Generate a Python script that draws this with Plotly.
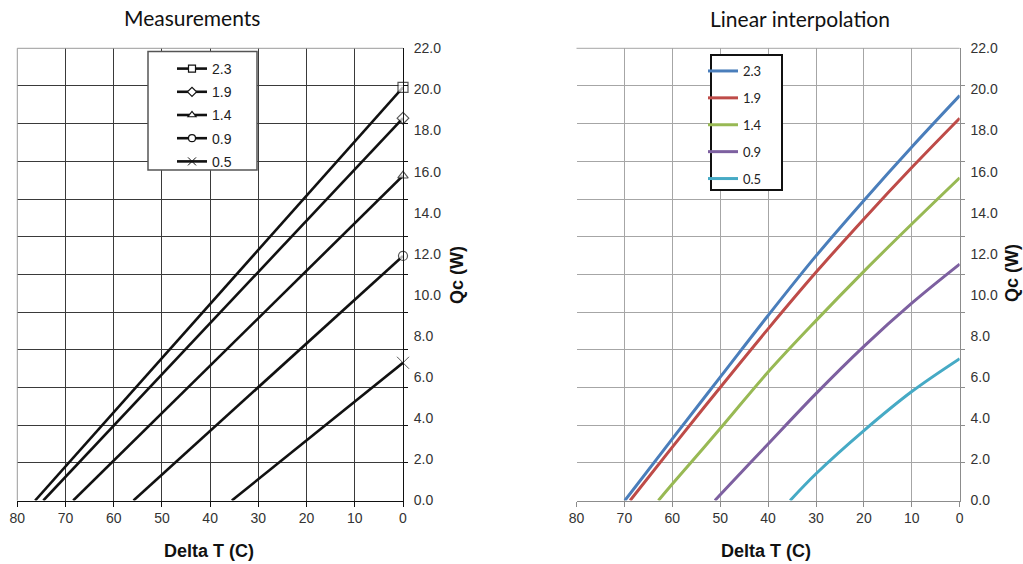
import plotly.graph_objects as go

W, H = 1023, 564

# ---------------- data ----------------
series_names = ["2.3", "1.9", "1.4", "0.9", "0.5"]

# Measurements (left): Delta T (C) vs Qc (W)
meas_x_23 = [76.3, 0.0]
meas_y_23 = [0.0, 20.1]
meas_x_19 = [74.6, 0.0]
meas_y_19 = [0.0, 18.6]
meas_x_14 = [68.4, 0.0]
meas_y_14 = [0.0, 15.8]
meas_x_09 = [55.9, 0.0]
meas_y_09 = [0.0, 11.9]
meas_x_05 = [35.5, 0.0]
meas_y_05 = [0.0, 6.7]
meas_symbols = ["square", "diamond", "triangle-up", "circle", "x-thin-open"]
meas_marker_sizes = [10, 9, 9, 9, 12]

# Linear interpolation (right)
interp_x_23 = [69.9, 60, 50, 40, 30, 20, 10, 0]
interp_y_23 = [0.0, 3.0, 6.0, 9.0, 11.9, 14.6, 17.2, 19.7]
interp_x_19 = [68.8, 60, 50, 40, 30, 20, 10, 0]
interp_y_19 = [0.0, 2.6, 5.5, 8.35, 11.1, 13.7, 16.2, 18.6]
interp_x_14 = [62.9, 60, 50, 40, 30, 20, 10, 0]
interp_y_14 = [0.0, 0.8, 3.5, 6.25, 8.75, 11.15, 13.45, 15.7]
interp_x_09 = [51.1, 50, 40, 30, 20, 10, 0]
interp_y_09 = [0.0, 0.28, 2.75, 5.2, 7.5, 9.6, 11.5]
interp_x_05 = [35.4, 30, 20, 10, 0]
interp_y_05 = [0.0, 1.3, 3.4, 5.3, 6.9]
interp_colors = ["#4A7EBB", "#BE4B48", "#98B954", "#7D60A0", "#46AAC5"]

x_ticks = [0, 10, 20, 30, 40, 50, 60, 70, 80]
y_ticks = [0, 2, 4, 6, 8, 10, 12, 14, 16, 18, 20, 22]
y_grid = [22 * k / 12 for k in range(1, 12)]

meas_x = [meas_x_23, meas_x_19, meas_x_14, meas_x_09, meas_x_05]
meas_y = [meas_y_23, meas_y_19, meas_y_14, meas_y_09, meas_y_05]
interp_x = [interp_x_23, interp_x_19, interp_x_14, interp_x_09, interp_x_05]
interp_y = [interp_y_23, interp_y_19, interp_y_14, interp_y_09, interp_y_05]


def px(p):
    return p / W


def py(p):
    return 1 - p / H


fig = go.Figure()

for name, xs, ys, sym, ms in zip(series_names, meas_x, meas_y, meas_symbols, meas_marker_sizes):
    sizes = [0] * (len(xs) - 1) + [ms]
    is_x = sym.startswith("x")
    fill = "#111111" if is_x else "white"
    marker_line = dict(color="#111111", width=1.0 if is_x else 1.2)
    # the measured line with its end marker
    fig.add_trace(go.Scatter(
        x=xs, y=ys, name=name, mode="lines+markers", showlegend=False,
        line=dict(color="#111111", width=2.6), cliponaxis=False,
        marker=dict(symbol=sym, size=sizes, color=fill, line=marker_line),
        xaxis="x", yaxis="y",
    ))
    # legend entry (no data of its own)
    fig.add_trace(go.Scatter(
        x=[None], y=[None], name=name, mode="lines+markers",
        line=dict(color="#111111", width=2.6),
        marker=dict(symbol=sym, size=8 if is_x else 7, color=fill, line=marker_line),
        xaxis="x", yaxis="y", legend="legend", legendgroup="m" + name,
    ))

for name, xs, ys, col in zip(series_names, interp_x, interp_y, interp_colors):
    fig.add_trace(go.Scatter(
        x=xs, y=ys, name=name, mode="lines",
        line=dict(color=col, width=3, shape="spline", smoothing=1.0),
        xaxis="x2", yaxis="y2", legend="legend2", legendgroup="i" + name,
    ))

tick_font = dict(family="Liberation Sans, Arial, sans-serif", size=14, color="#333333")

x_dom_l = [px(17.3), px(403)]
x_dom_r = [px(576.5), px(959.7)]
y_dom = [py(500.5), py(48.3)]


def xaxis_cfg(domain, anchor, gridcol, linecol):
    return dict(
        domain=domain, anchor=anchor, range=[80, 0], autorange=False,
        tickmode="array", tickvals=x_ticks, ticktext=[str(v) for v in x_ticks],
        showgrid=True, gridcolor=gridcol, gridwidth=1, zeroline=False,
        showline=True, linecolor=linecol, linewidth=1,
        ticks="outside", ticklen=5, tickcolor=linecol, tickwidth=1,
        tickfont=tick_font, automargin=False,
    )


def yaxis_cfg(domain, anchor, gridcol, linecol):
    return dict(
        domain=domain, anchor=anchor, side="right", range=[0, 22], autorange=False,
        tickmode="array", tickvals=y_ticks, ticktext=["%.1f" % v for v in y_ticks],
        showgrid=False, zeroline=False, ticks="",
        showline=True, linecolor=linecol, linewidth=1,
        tickfont=tick_font, ticklabelstandoff=7, automargin=False,
        minor=dict(tickmode="array", tickvals=y_grid, showgrid=True,
                   gridcolor=gridcol, gridwidth=1, ticks="outside",
                   ticklen=4, tickcolor=linecol),
    )


fig.update_layout(
    width=W, height=H, margin=dict(l=0, r=0, t=0, b=0, pad=0, autoexpand=False),
    paper_bgcolor="white", plot_bgcolor="white",
    xaxis=xaxis_cfg(x_dom_l, "y", "#3a3a3a", "#111111"),
    yaxis=yaxis_cfg(y_dom, "x", "#3a3a3a", "#111111"),
    xaxis2=xaxis_cfg(x_dom_r, "y2", "#a6a6a6", "#8c8c8c"),
    yaxis2=yaxis_cfg(y_dom, "x2", "#a6a6a6", "#8c8c8c"),
    legend=dict(x=px(172), y=py(53), xanchor="left", yanchor="top",
                bgcolor="rgba(0,0,0,0)", borderwidth=0, tracegroupgap=2,
                font=dict(family="Liberation Sans, Arial, sans-serif", size=14, color="#222222")),
    legend2=dict(x=px(703), y=py(56), xanchor="left", yanchor="top",
                 bgcolor="rgba(0,0,0,0)", borderwidth=0, tracegroupgap=7,
                 font=dict(family="Lato, sans-serif", size=13, color="#222222")),
)

shapes = [
    # left plot top/left borders
    dict(type="line", xref="x domain", yref="y domain", x0=0, x1=1, y0=1, y1=1,
         line=dict(color="#9a9a9a", width=1), layer="above"),
    dict(type="line", xref="x domain", yref="y domain", x0=0, x1=0, y0=0, y1=1,
         line=dict(color="#9a9a9a", width=1), layer="above"),
    # right plot top border
    dict(type="line", xref="x2 domain", yref="y2 domain", x0=0, x1=1, y0=1, y1=1,
         line=dict(color="#a6a6a6", width=1), layer="above"),
    # legend boxes
    dict(type="rect", xref="paper", yref="paper", x0=px(148), x1=px(257),
         y0=py(170), y1=py(51.5), line=dict(color="#555555", width=1.5),
         fillcolor="white", layer="above"),
    dict(type="rect", xref="paper", yref="paper", x0=px(711), x1=px(782),
         y0=py(190), y1=py(55), line=dict(color="#111111", width=2),
         fillcolor="white", layer="above"),
]
fig.update_layout(shapes=shapes)

title_font = dict(family="Lato, sans-serif", size=21, color="#111111")
axis_title_font = dict(family="Liberation Sans, Arial, sans-serif", size=18, color="#111111")

annotations = [
    dict(text="Measurements", x=px(192), y=py(18), font=title_font),
    dict(text="Linear interpolation", x=px(800), y=py(19), font=title_font),
    dict(text="<b>Delta T (C)</b>", x=px(209), y=py(551), font=axis_title_font),
    dict(text="<b>Delta T (C)</b>", x=px(766), y=py(551), font=axis_title_font),
    dict(text="<b>Qc (W)</b>", x=px(457), y=py(275), textangle=-90, font=axis_title_font),
    dict(text="<b>Qc (W)</b>", x=px(1012), y=py(273), textangle=-90, font=axis_title_font),
]
for a in annotations:
    a.update(xref="paper", yref="paper", showarrow=False, xanchor="center", yanchor="middle")
fig.update_layout(annotations=annotations)

fig.write_html("out.html", config={"displayModeBar": False},
               post_script="document.body.style.margin='0px';")
